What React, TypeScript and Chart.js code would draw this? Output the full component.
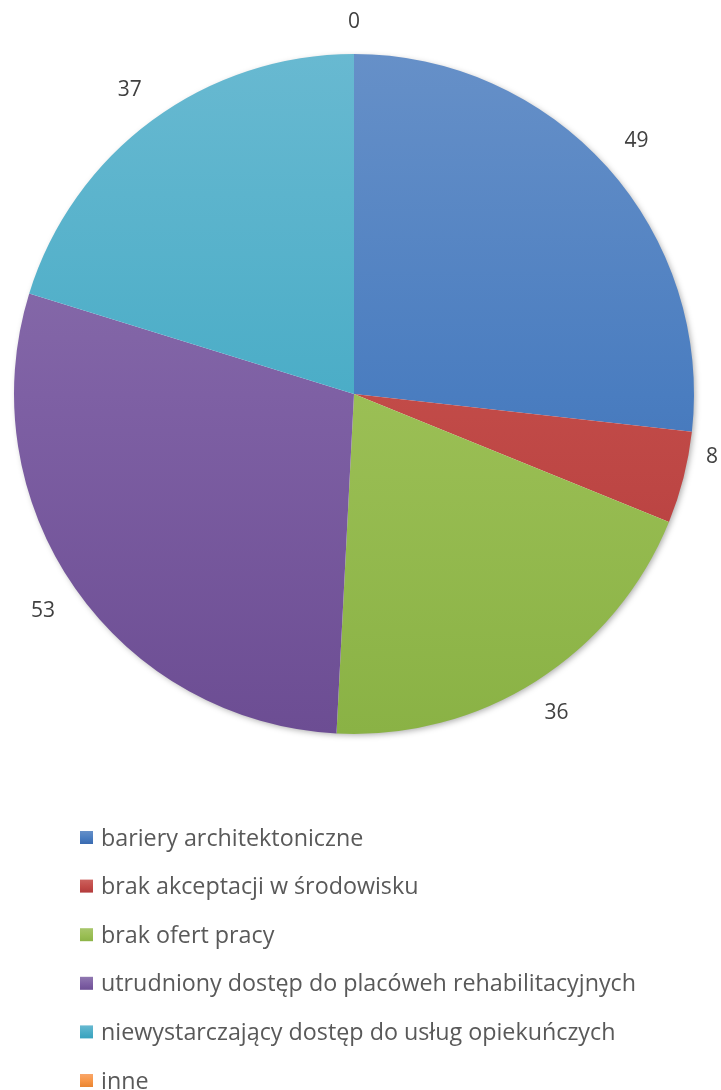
import React, { useEffect, useRef } from "react";
import { Chart, registerables } from "chart.js";

Chart.register(...registerables);

const categories = [
  "bariery architektoniczne",
  "brak akceptacji w środowisku",
  "brak ofert pracy",
  "utrudniony dostęp do placóweh rehabilitacyjnych",
  "niewystarczający dostęp do usług opiekuńczych",
  "inne",
];
const values = [49, 8, 36, 53, 37, 0];
const topColors = ["#6690C8", "#CC625E", "#A8C66C", "#9078B0", "#68B9D1", "#F9A66A"];
const midColors = ["#4A7DC0", "#C24B48", "#9BBF55", "#7E60A4", "#4BADC7", "#F79646"];
const bottomColors = ["#3767AD", "#B0393A", "#8AB245", "#6C4D93", "#35A0BC", "#E6822E"];

const FONT = "'Open Sans', 'Liberation Sans', sans-serif";

function grad(ctx: CanvasRenderingContext2D, i: number, y0: number, y1: number) {
  const g = ctx.createLinearGradient(0, y0, 0, y1);
  g.addColorStop(0, topColors[i]);
  g.addColorStop(0.5, midColors[i]);
  g.addColorStop(1, bottomColors[i]);
  return g;
}

const shadowPlugin = {
  id: "pieShadow",
  beforeDatasetsDraw(chart: any) {
    const meta = chart.getDatasetMeta(0);
    const el = meta.data[0];
    if (!el) return;
    const { x, y, outerRadius } = el.getProps(["x", "y", "outerRadius"], true);
    const ctx = chart.ctx;
    ctx.save();
    ctx.shadowColor = "rgba(0,0,0,0.35)";
    ctx.shadowBlur = 6;
    ctx.shadowOffsetX = 2;
    ctx.shadowOffsetY = 2;
    ctx.fillStyle = "#ffffff";
    ctx.beginPath();
    ctx.arc(x, y, outerRadius - 1, 0, Math.PI * 2);
    ctx.fill();
    ctx.restore();
  },
};

const labelPlugin = {
  id: "outLabels",
  afterDatasetsDraw(chart: any) {
    const ctx = chart.ctx;
    const meta = chart.getDatasetMeta(0);
    const data = chart.data.datasets[0].data;
    ctx.save();
    ctx.font = `21px ${FONT}`;
    ctx.fillStyle = "#404040";
    ctx.textAlign = "center";
    ctx.textBaseline = "middle";
    meta.data.forEach((el: any, i: number) => {
      const p = el.getProps(["x", "y", "startAngle", "endAngle", "outerRadius"], true);
      const mid = (p.startAngle + p.endAngle) / 2;
      const txt = String(data[i]);
      const w = ctx.measureText(txt).width;
      const h = 12;
      const cx = Math.cos(mid);
      const sy = Math.sin(mid);
      const ext = Math.abs(cx) * w / 2 + Math.abs(sy) * h / 2;
      const r = p.outerRadius + 26 + ext;
      let lx = p.x + cx * r;
      let ly = p.y + sy * r;
      const maxX = chart.width - 3 - w / 2;
      if (lx > maxX) {
        lx = maxX;
        ly = p.y + sy * (p.outerRadius * 0.75);
      }
      ctx.fillText(txt, lx, ly);
    });
    ctx.restore();
  },
};

const legendPlugin = {
  id: "vertLegend",
  afterDraw(chart: any) {
    const ctx = chart.ctx;
    const labels = chart.data.labels as string[];
    ctx.save();
    ctx.font = `23.3px ${FONT}`;
    ctx.textAlign = "left";
    ctx.textBaseline = "middle";
    labels.forEach((lab, i) => {
      const cy = 838 + i * 48.6;
      ctx.fillStyle = grad(ctx, i, cy - 7, cy + 7);
      ctx.fillRect(80, cy - 7, 13, 13);
      ctx.fillStyle = "#595959";
      ctx.fillText(lab, 101, cy + 1);
    });
    ctx.restore();
  },
};

export default function App() {
  const ref = useRef<HTMLCanvasElement>(null);
  useEffect(() => {
    document.body.style.margin = "0";
    const chart = new Chart(ref.current!, {
      type: "pie",
      data: {
        labels: categories,
        datasets: [
          {
            data: values,
            borderWidth: 0,
            backgroundColor: (c: any) => {
              const area = c.chart.chartArea;
              const i = c.dataIndex;
              if (!area) return midColors[i];
              return grad(c.chart.ctx, i, area.top, area.bottom);
            },
          },
        ],
      },
      options: {
        responsive: false,
        animation: false,
        layout: { padding: { left: 14, right: 27, top: 54, bottom: 356 } },
        plugins: {
          legend: { display: false },
          tooltip: { enabled: false },
        },
      },
      plugins: [shadowPlugin, labelPlugin, legendPlugin],
    });
    return () => chart.destroy();
  }, []);
  return (
    <div style={{ position: "absolute", left: 0, top: 0, width: 721, height: 1090, background: "#fff" }}>
      <canvas ref={ref} width={721} height={1090} style={{ width: 721, height: 1090 }} />
    </div>
  );
}
